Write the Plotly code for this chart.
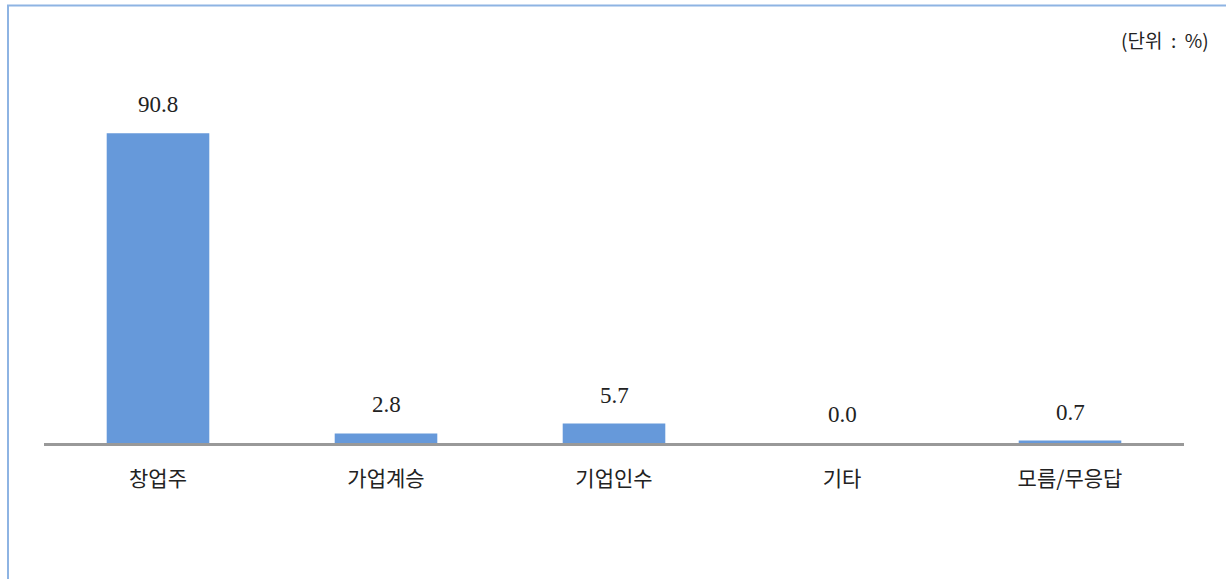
import plotly.graph_objects as go

categories = ["창업주", "가업계승", "기업인수", "기타", "모름/무응답"]
values = [90.8, 2.8, 5.7, 0.0, 0.7]
value_labels = ["90.8", "2.8", "5.7", "0.0", "0.7"]
unit_text = "(단위  :  %)"

W, H = 1226, 579
L, R = 44, 1184
T, B = 101.6, 443

def px_to_paper_x(px):
    return (px - L) / (R - L)

def px_to_paper_y(py):
    return (B - py) / (B - T)

fig = go.Figure()
fig.add_trace(go.Bar(
    x=categories, y=values,
    marker=dict(color="#6699DA", line=dict(width=0)),
    width=0.45,
    hoverinfo="skip",
))

annotations = []
for c, v, t in zip(categories, values, value_labels):
    annotations.append(dict(
        x=c, y=v, xref="x", yref="y", text=t, showarrow=False,
        yanchor="bottom", yshift=14,
        font=dict(family="Liberation Serif", size=23, color="#222222"),
    ))
annotations.append(dict(
    x=px_to_paper_x(1211), y=px_to_paper_y(39), xref="paper", yref="paper",
    text=unit_text, showarrow=False, xanchor="right", yanchor="middle",
    font=dict(family="Noto Sans CJK KR", size=19, color="#222222"),
))

fig.update_layout(
    width=W, height=H,
    margin=dict(l=L, r=W - R, t=T, b=H - B, pad=0),
    paper_bgcolor="white", plot_bgcolor="white",
    showlegend=False,
    annotations=annotations,
    shapes=[dict(
        type="rect", xref="paper", yref="paper",
        x0=px_to_paper_x(8), x1=px_to_paper_x(1260),
        y0=px_to_paper_y(620), y1=px_to_paper_y(5),
        line=dict(color="#8EB4E3", width=2), fillcolor="rgba(0,0,0,0)",
        layer="below",
    )],
    xaxis=dict(
        showline=True, linecolor="#999999", linewidth=2.5,
        showgrid=False, zeroline=False, ticks="",
        ticklabelstandoff=15,
        tickfont=dict(family="Noto Sans CJK KR", size=21, color="#222222"),
    ),
    yaxis=dict(
        range=[0, 100], visible=False, showgrid=False, zeroline=False,
    ),
)

fig.write_html("out.html", config={"displayModeBar": False},
               post_script="document.body.style.margin='0';document.body.style.overflow='hidden';")
